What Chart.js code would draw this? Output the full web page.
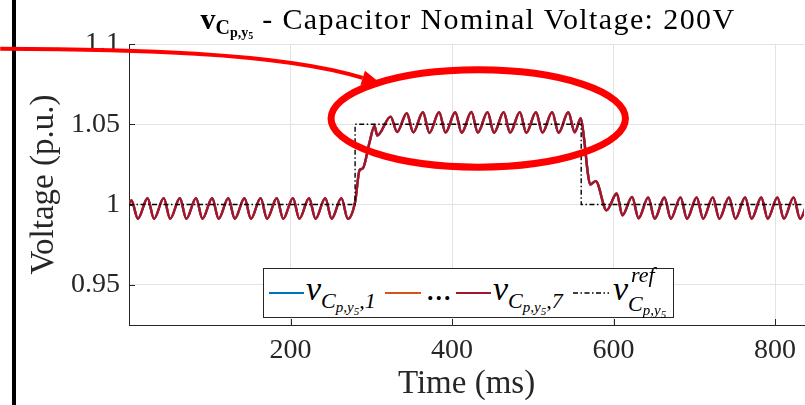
<!DOCTYPE html>
<html>
<head>
<meta charset="utf-8">
<script src="https://cdn.jsdelivr.net/npm/chart.js@4.4.1/dist/chart.umd.min.js"></script>
<style>
html,body{margin:0;padding:0;background:#fff;}
#wrap{position:relative;width:805px;height:405px;overflow:hidden;background:#fff;}
#bar{position:absolute;left:12px;top:0;width:3.5px;height:405px;background:#000;z-index:0;}
#c{position:absolute;left:0;top:0;z-index:1;}
#title{position:absolute;left:129px;width:678px;top:4px;text-align:center;font-family:'Liberation Serif';font-size:30px;line-height:29px;letter-spacing:1.4px;white-space:nowrap;color:#000;z-index:2;}
#title .tb{font-weight:bold;letter-spacing:0;}
#title .t1{font-size:20px;position:relative;top:5px;}
#title .t2{font-size:14px;position:relative;top:3px;}
#title .t3{font-size:10px;position:relative;top:2px;}
#legend{position:absolute;left:263px;top:268px;width:409px;height:48px;border:1px solid #262626;background:#fff;z-index:2;font-family:'Liberation Serif';color:#000;}
#legend .sw{position:absolute;top:23px;height:0;border-top:2.5px solid;}
#legend .dd{position:absolute;top:22px;}
#legend .tx{position:absolute;top:3px;font-style:italic;font-size:34px;line-height:34px;white-space:nowrap;}
#legend .up{font-style:normal;}
#legend .s1{font-size:22px;position:relative;top:8px;}
#legend .s2{font-size:15px;position:relative;top:4px;}
#legend .s3{font-size:11px;position:relative;top:3px;}
#legend .sb{font-size:22px;position:relative;top:11px;}
#legend .sp{font-size:22px;position:absolute;left:3px;top:-27px;line-height:22px;}
</style>
</head>
<body>
<div id="wrap">
  <div id="bar"></div>
  <canvas id="c" width="805" height="405"></canvas>
  <div id="title"><span class="tb">v<span class="t1">C<span class="t2">p,y<span class="t3">5</span></span></span></span> - Capacitor Nominal Voltage: 200V</div>
  <div id="legend">
    <div class="sw" style="left:5px;width:35px;border-color:#0072BD"></div>
    <div class="tx" style="left:42px">v<span class="s1">C<span class="s2">p,y<span class="s3">5</span></span>,1</span></div>
    <div class="sw" style="left:121px;width:36px;border-color:#D95319"></div>
    <div class="tx up" style="left:162px">...</div>
    <div class="sw" style="left:192px;width:35px;border-color:#A2142F"></div>
    <div class="tx" style="left:229px">v<span class="s1">C<span class="s2">p,y<span class="s3">5</span></span>,7</span></div>
    <svg class="dd" style="left:309px" width="36" height="4"><line x1="0" y1="2" x2="36" y2="2" stroke="#000" stroke-width="1.3" stroke-dasharray="5 2.5 1.5 2.5"/></svg>
    <div class="tx" style="left:349px">v<span class="sb">C<span class="s2">p,y<span class="s3">5</span></span><span class="sp">ref</span></span></div>
  </div>
</div>
<script>
// ---- data ----
const timeMs = [
  0, 3, 11, 23, 31, 43, 51, 63, 71, 83, 91, 103, 111, 123, 131, 143, 151, 163, 171, 183, 191, 203, 211, 223, 231, 243, 251, 263, 271,
  280, 285.5, 289.5, 298, 304, 307.5,
  324, 332, 344, 352, 364, 372, 384, 392, 404, 412, 424, 432, 444, 452, 464, 472, 484, 492, 504, 512, 524, 532, 544, 552,
  559.5, 563.5, 568, 571, 578, 591.5,
  604, 611, 623, 631, 643, 651, 663, 671, 683, 691, 703, 711, 723, 731, 743, 751, 763, 771, 783, 791, 803, 811, 823, 831, 840
];
const vC7 = [
  1.0010, 1.0025, 0.9912, 1.0039, 0.9911, 1.0040, 0.9912, 1.0039, 0.9911, 1.0040, 0.9912, 1.0039, 0.9911, 1.0040, 0.9912, 1.0039, 0.9911, 1.0040, 0.9912, 1.0039, 0.9911, 1.0040, 0.9912, 1.0039, 0.9911, 1.0040, 0.9912, 1.0040, 0.9911,
  1.0016, 1.0214, 1.0225, 1.0390, 1.0490, 1.0430,
  1.0548, 1.0452, 1.0569, 1.0450, 1.0575, 1.0446, 1.0576, 1.0448, 1.0575, 1.0447, 1.0577, 1.0448, 1.0576, 1.0447, 1.0575, 1.0448, 1.0576, 1.0447, 1.0575, 1.0448, 1.0576, 1.0447, 1.0575, 1.0450,
  1.0538, 1.0413, 1.0204, 1.0125, 1.0146, 0.9964,
  1.0069, 0.9933, 1.0048, 0.9915, 1.0045, 0.9912, 1.0044, 0.9912, 1.0045, 0.9912, 1.0044, 0.9912, 1.0045, 0.9912, 1.0044, 0.9912, 1.0045, 0.9912, 1.0044, 0.9912, 1.0045, 0.9912, 1.0045, 0.9912, 1.0010
];
// the seven capacitor voltages lie on top of each other in the reference
const vC1 = vC7;
const vCmid = vC7;
const refTimeMs = [0, 280, 280, 560, 560, 840];
const refVoltage = [1, 1, 1.05, 1.05, 1, 1];
const xTicks = [200, 400, 600, 800];
const yTicks = [0.95, 1, 1.05, 1.1];
const yTickLabels = ['0.95', '1', '1.05', '1.1'];

// ---- annotation geometry (in axis units) ----
const ringCenter = {t: 432.5, v: 1.0536};
const ringRadius = {t: 182.3, v: 0.0303};
const arrowCurve = [{t: -159.5, v: 1.0971}, {t: -9.9, v: 1.0968}, {t: 186.7, v: 1.0952}, {t: 289.4, v: 1.0789}];

const pts = (xs, ys) => xs.map((x, i) => ({x: x, y: ys[i]}));
const axisColor = '#262626';
const gridColor = '#e3e3e3';
const serif = 'Liberation Serif';

const innerTicks = {
  id: 'innerTicks',
  beforeDatasetsDraw(chart) {
    const {ctx, chartArea: a, scales: {x, y}} = chart;
    ctx.save();
    ctx.strokeStyle = axisColor;
    ctx.lineWidth = 1;
    ctx.beginPath();
    xTicks.forEach(v => { const p = Math.round(x.getPixelForValue(v)) + 0.5; ctx.moveTo(p, a.bottom); ctx.lineTo(p, a.bottom - 6); });
    yTicks.forEach(v => { const p = Math.round(y.getPixelForValue(v)) + 0.5; ctx.moveTo(a.left, p); ctx.lineTo(a.left + 6, p); });
    ctx.stroke();
    ctx.restore();
  }
};

const annotations = {
  id: 'annotations',
  afterDraw(chart) {
    const {ctx, scales: {x, y}} = chart;
    ctx.save();
    ctx.strokeStyle = '#ff0000';
    ctx.fillStyle = '#ff0000';
    const cx = x.getPixelForValue(ringCenter.t), cy = y.getPixelForValue(ringCenter.v);
    const rx = x.getPixelForValue(ringCenter.t + ringRadius.t) - cx;
    const ry = cy - y.getPixelForValue(ringCenter.v + ringRadius.v);
    ctx.lineWidth = 7;
    ctx.beginPath();
    ctx.ellipse(cx, cy, rx, ry, 0, 0, Math.PI * 2);
    ctx.stroke();
    const P = arrowCurve.map(p => [x.getPixelForValue(p.t), y.getPixelForValue(p.v)]);
    ctx.lineWidth = 4;
    ctx.lineCap = 'butt';
    ctx.beginPath();
    ctx.moveTo(P[0][0], P[0][1]);
    ctx.bezierCurveTo(P[1][0], P[1][1], P[2][0], P[2][1], P[3][0], P[3][1]);
    ctx.stroke();
    let dx = P[3][0] - P[2][0], dy = P[3][1] - P[2][1];
    const L = Math.hypot(dx, dy); dx /= L; dy /= L;
    const hl = 19, hw = 7.5;
    ctx.beginPath();
    ctx.moveTo(P[3][0] + dx * hl, P[3][1] + dy * hl);
    ctx.lineTo(P[3][0] - dy * hw, P[3][1] + dx * hw);
    ctx.lineTo(P[3][0] + dy * hw, P[3][1] - dx * hw);
    ctx.closePath();
    ctx.fill();
    ctx.restore();
  }
};

const lineDs = (label, data, color, order) => ({
  label: label, data: data, borderColor: color, backgroundColor: color,
  borderWidth: 2.4, pointRadius: 0, cubicInterpolationMode: 'monotone', fill: false, order: order
});

Chart.defaults.font.family = serif;

new Chart(document.getElementById('c'), {
  type: 'line',
  data: {
    datasets: [
      {label: 'ref', data: pts(refTimeMs, refVoltage), borderColor: '#000', borderWidth: 1.4,
       borderDash: [5, 2.5, 1.5, 2.5], pointRadius: 0, tension: 0, fill: false, order: 0},
      lineDs('vC7', pts(timeMs, vC7), '#A2142F', 1),
      lineDs('vCmid', pts(timeMs, vCmid), '#D95319', 2),
      lineDs('vC1', pts(timeMs, vC1), '#0072BD', 3)
    ]
  },
  options: {
    responsive: false,
    animation: false,
    devicePixelRatio: 1,
    events: [],
    layout: {padding: {top: 44, left: 0, right: 0, bottom: 0}},
    plugins: {legend: {display: false}, tooltip: {enabled: false}, title: {display: false}},
    scales: {
      x: {
        type: 'linear', min: 0, max: 836,
        afterBuildTicks: s => { s.ticks = xTicks.map(v => ({value: v})); },
        afterFit: s => { s.height = 80; },
        ticks: {autoSkip: false, maxRotation: 0, padding: 9, color: axisColor,
                font: {family: serif, size: 28}, callback: v => String(v)},
        grid: {color: gridColor, lineWidth: 1, drawTicks: false},
        border: {color: axisColor, width: 1},
        title: {display: true, text: 'Time (ms)', color: axisColor,
                font: {family: serif, size: 33}, padding: {top: 0, bottom: 1}}
      },
      y: {
        type: 'linear', min: 0.925, max: 1.1,
        afterBuildTicks: s => { s.ticks = yTicks.map(v => ({value: v})); },
        afterFit: s => { s.width = 129; },
        ticks: {autoSkip: false, padding: 9, color: axisColor,
                font: {family: serif, size: 28},
                callback: v => yTickLabels[yTicks.indexOf(v)] ?? String(v)},
        grid: {color: gridColor, lineWidth: 1, drawTicks: false},
        border: {color: axisColor, width: 1},
        title: {display: true, text: 'Voltage (p.u.)', color: axisColor,
                font: {family: serif, size: 33}, padding: {top: 25, bottom: 0}}
      }
    }
  },
  plugins: [innerTicks, annotations]
});
</script>
</body>
</html>
